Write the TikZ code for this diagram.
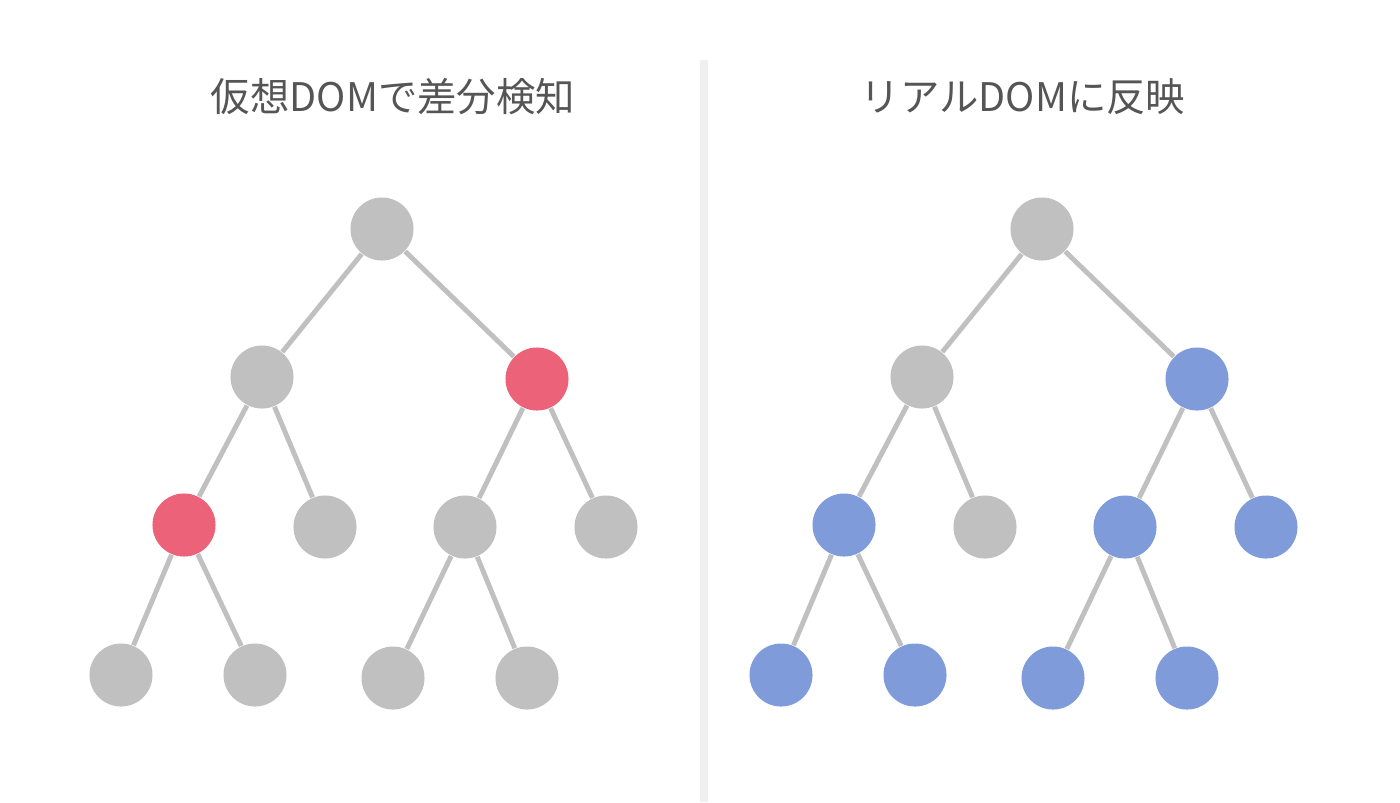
\documentclass[tikz,border=0pt]{standalone}
\usepackage{fontspec}
\newfontfamily\jpfont{Noto Sans CJK JP}
\usepackage{tikz}
\definecolor{nodegray}{HTML}{C0C0C0}
\definecolor{diffred}{HTML}{EC6279}
\definecolor{patchblue}{HTML}{7F9BDA}
\definecolor{titlegray}{HTML}{555555}
\definecolor{divider}{HTML}{F0F0F1}

\begin{document}
\begin{tikzpicture}[x=0.01cm,y=-0.01cm,
    vnode/.style={circle,fill=#1,minimum size=0.63cm,inner sep=0pt},
    branch/.style={draw=nodegray,line width=1.4pt}]
    \useasboundingbox (0,0) rectangle (1400,802);
    \fill[divider] (700,60) rectangle (708,802);
    \newcommand\domtree[6]{
      \node[vnode=nodegray] at (#1+382,229) (#2r) {};
      \node[vnode=nodegray] at (#1+262,377) (#2a) {};
      \node[vnode=#3] at (#1+537,379) (#2b) {};
      \node[vnode=#4] at (#1+184,525) (#2aa) {};
      \node[vnode=nodegray] at (#1+325,527) (#2ab) {};
      \node[vnode=#5] at (#1+465,527) (#2ba) {};
      \node[vnode=#5] at (#1+606,527) (#2bb) {};
      \node[vnode=#6] at (#1+121,675) (#2aaa) {};
      \node[vnode=#6] at (#1+255,675) (#2aab) {};
      \node[vnode=#6] at (#1+393,678) (#2baa) {};
      \node[vnode=#6] at (#1+527,678) (#2bab) {};
      \draw[branch] (#2r) -- (#2a) (#2r) -- (#2b)
      (#2a) -- (#2aa) (#2a) -- (#2ab) (#2b) -- (#2ba) (#2b) -- (#2bb)
      (#2aa) -- (#2aaa) (#2aa) -- (#2aab) (#2ba) -- (#2baa) (#2ba) -- (#2bab);
    }
    \domtree{0}{v}{diffred}{diffred}{nodegray}{nodegray}
    \domtree{660}{d}{patchblue}{patchblue}{patchblue}{patchblue}
    \node[text=titlegray,font=\jpfont\fontsize{11.2}{13}\selectfont] at (393,97) (vtitle) {仮想DOMで差分検知};
    \node[text=titlegray,font=\jpfont\fontsize{11.2}{13}\selectfont] at (1023,97) (dtitle) {リアルDOMに反映};
  \end{tikzpicture}
\end{document}
